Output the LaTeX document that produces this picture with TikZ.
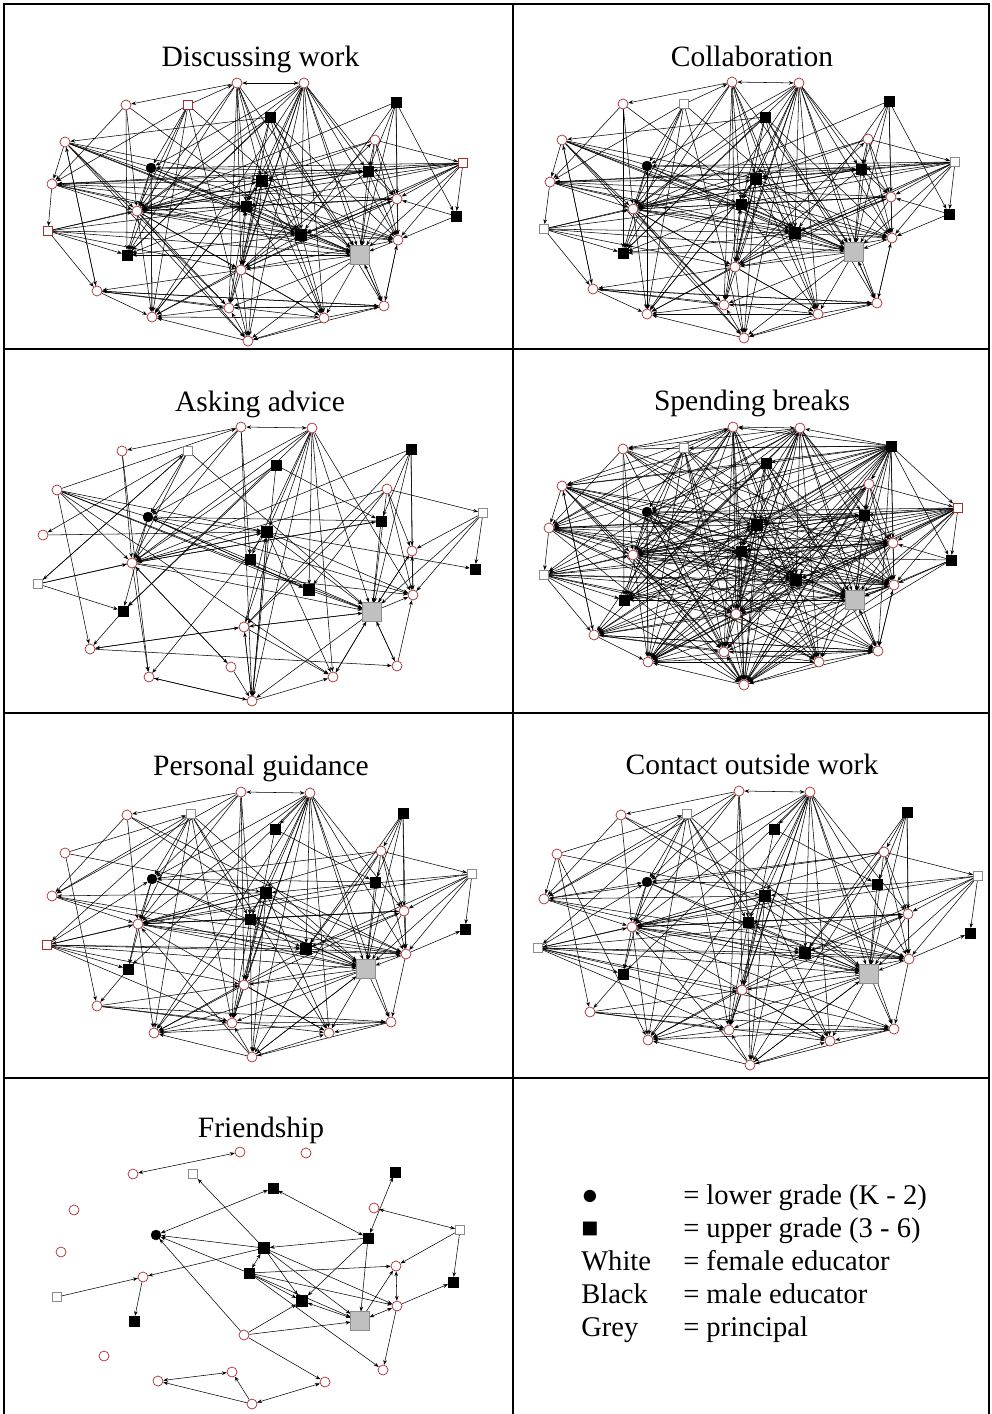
\documentclass[tikz,border=0pt]{standalone}
\usepackage{fontspec}
\setmainfont{Liberation Serif}
\usetikzlibrary{arrows.meta,backgrounds}

\definecolor{nodered}{RGB}{170,45,45}
\definecolor{sqgrey}{RGB}{140,140,140}
\definecolor{principal}{RGB}{192,192,192}

\tikzset{
  >={Stealth[length=3.4pt,width=2.6pt]},
  ncirc/.style={circle, draw=nodered, fill=white, line width=0.5pt, minimum size=0.25cm, inner sep=0pt},
  nbdot/.style={circle, draw=black, fill=black, minimum size=0.245cm, inner sep=0pt},
  nbsq/.style={rectangle, draw=black, fill=black, minimum size=0.24cm, inner sep=0pt},
  nbsqbig/.style={nbsq, minimum size=0.275cm},
  nwsq/.style={rectangle, fill=white, line width=0.5pt, minimum size=0.23cm, inner sep=0pt},
  ngsq/.style={rectangle, draw=sqgrey, fill=principal, line width=0.5pt, minimum size=0.46cm, inner sep=0pt},
  tie/.style={draw=black, line width=0.38pt},
  frame/.style={line width=1.3pt},
  paneltitle/.style={anchor=base, inner sep=0pt, font=\fontsize{21pt}{25pt}\selectfont},
  legendtext/.style={anchor=base west, inner sep=0pt, font=\fontsize{20.3pt}{24pt}\selectfont},
  % kind of actor at each position of the layout
  t1/.style=ncirc,  t2/.style=ncirc,  t3/.style=ncirc,
  t4/.style={nwsq, draw=\wsqA},
  t5/.style=nbsq,   t6/.style=nbsq,   t7/.style=ncirc,  t8/.style=ncirc,
  t9/.style=nbdot,
  t10/.style={nwsq, draw=\wsqB},
  t11/.style=nbsq,  t12/.style=nbsqbig, t13/.style=ncirc, t14/.style=ncirc,
  t15/.style=nbsq,  t16/.style=ncirc, t17/.style=nbsq,
  t18/.style={nwsq, draw=\wsqC},
  t19/.style=nbsqbig, t20/.style=ncirc, t21/.style=nbsq, t22/.style=ngsq,
  t23/.style=ncirc, t24/.style=ncirc, t25/.style=ncirc, t26/.style=ncirc,
  t27/.style=ncirc, t28/.style=ncirc, t29/.style=ncirc
}

\newcommand\wsqcolors[3]{\def\wsqA{#1}\def\wsqB{#2}\def\wsqC{#3}}
\newcommand\placenodes[2]{%
  \foreach \px/\py [count=\i] in {#2} {\node[t\i] (#1\i) at (\px,\py) {};}}
\newcommand\drawties[3][->]{%
  \begin{pgfonlayer}{background}
    \foreach \ea/\eb in #3 {\draw[tie,#1] (#2\ea) -- (#2\eb);}
  \end{pgfonlayer}}

% ---- tie lists ----
\def\tiesDiscuss{1/3, 1/23, 1/16, 1/21, 1/25, 1/15, 1/12, 1/28, 1/19, 1/22,
2/12, 2/15, 2/19, 2/22, 2/23, 2/25, 2/28, 2/26, 2/20, 2/14, 2/16, 2/9, 2/21, 2/27, 2/29, 2/11,
3/16, 3/19, 3/13, 3/21,
4/16, 4/9, 4/13, 4/29, 4/22, 4/21, 4/27, 4/1,
5/7, 5/16, 5/22, 5/20, 5/21, 5/26, 5/23, 5/28, 5/15,
6/11, 6/14, 6/20, 6/17, 6/16, 6/19, 6/22,
7/13, 7/16, 7/19, 7/22, 7/20, 7/25, 7/24, 7/12, 7/15, 7/29,
8/11, 8/22, 8/20, 8/14, 8/12, 8/16, 8/10,
9/11, 9/19, 9/22, 9/16, 9/21, 9/27,
10/14, 10/17, 10/20, 10/12, 10/16, 10/13, 10/15, 10/19, 10/23, 10/9, 10/11, 10/22,
11/14, 11/22, 11/12, 11/16, 11/20, 11/23,
12/16, 12/13, 12/19, 12/22, 12/20, 12/23, 12/29, 12/27, 12/25, 12/28,
13/18, 13/16, 13/19, 13/11, 13/14, 13/22,
14/20, 14/16, 14/22, 14/23, 14/15, 14/19,
15/22, 15/20, 15/21, 15/28, 15/13,
16/19, 16/22, 16/20, 16/23, 16/25, 16/27, 16/29, 16/14, 16/11, 16/28,
17/20, 17/14,
18/16, 18/21, 18/23, 18/19, 18/22, 18/24, 18/15, 18/12,
19/22, 19/20, 19/14, 19/21, 19/27,
20/22, 20/26,
22/21, 22/23, 22/26, 22/28, 22/29, 22/25,
23/24, 23/20, 23/15, 23/27, 23/29, 23/28, 23/8,
24/27, 24/25, 24/26, 24/7, 24/28,
25/27, 25/26, 25/15,
26/20, 26/22, 26/25, 26/24, 26/29,
27/9, 27/12,
28/27, 28/29, 28/26,
29/27, 29/25}

\def\tiesBreaksExtra{6/1, 6/2, 6/3, 6/4, 6/5, 6/9, 6/12, 6/13, 6/15, 6/18, 6/23, 6/25, 6/27,
6/29, 6/7, 6/24, 6/21, 6/28, 6/26, 6/8, 6/10,
1/29, 5/29, 8/29, 9/29, 15/29, 19/29, 3/29, 11/29, 13/29, 14/29, 20/29, 10/29, 17/29, 18/29,
2/7, 2/13, 2/18, 2/24, 2/3, 1/7, 1/13, 1/18, 1/24, 1/27,
3/22, 3/20, 3/14, 4/19, 4/20, 4/23, 4/25, 9/20, 9/14, 9/23, 9/25, 9/28, 13/20, 13/23, 13/28,
16/26, 7/14, 7/26, 18/14, 18/20, 18/26, 21/12, 21/14, 10/24, 10/27, 10/21, 17/16, 17/22,
14/27, 20/27, 20/24, 27/26, 12/24, 15/27, 15/26, 19/25, 19/24, 11/27, 11/24, 8/27, 8/25}

\def\tiesAdvice{1/3, 1/9, 1/16, 1/15, 1/29, 7/1,
2/9, 2/16, 2/15, 2/19, 2/22, 2/23, 2/29, 2/28, 2/20, 2/12, 2/21,
3/16, 3/27,
4/13, 4/16, 4/9, 4/22, 4/18,
5/21, 5/11, 5/16, 5/29,
6/11, 6/16, 6/22, 6/20, 6/14, 6/23,
7/12, 7/16, 7/19, 7/22, 7/20, 7/24, 7/28,
8/10, 8/14, 8/20, 8/22, 8/16, 8/23, 8/19,
9/19, 9/22, 19/9, 9/16, 9/21, 9/12,
10/14, 10/17, 10/20, 10/22,
11/22, 11/16, 11/9,
12/16, 12/17, 12/20, 12/22, 12/29, 12/28, 12/27,
16/11, 16/20, 16/25, 25/16, 16/27, 16/22,
18/16, 18/12, 18/21, 18/4,
19/22, 21/24,
22/20, 22/14, 22/26, 22/29, 22/28,
23/22, 22/23, 23/12, 23/28, 23/29, 23/24,
24/26, 24/23,
29/27, 29/28, 29/23, 29/12,
26/20, 26/22, 27/29, 28/22, 25/29, 13/12, 20/14, 14/22}

\def\tiesGuidance{1/3, 1/9, 1/15, 1/16, 1/23, 1/25, 1/13,
2/5, 2/9, 2/12, 2/15, 2/16, 2/19, 2/22, 2/23, 2/25, 2/28, 2/26, 2/20, 2/14, 2/27, 2/29, 2/21,
3/16, 3/13, 3/22, 3/20,
4/16, 4/9, 4/13, 4/18, 4/25, 4/22, 4/28, 4/15, 4/27,
5/11, 5/23,
6/8, 6/19, 6/14, 6/20, 6/11, 6/22,
7/4, 7/24, 7/12,
8/10, 8/9, 8/16, 8/20, 8/14, 8/22, 8/19, 8/29,
9/19, 9/22, 9/16, 9/21,
10/16, 10/14, 10/17, 10/20, 10/22, 10/12, 10/19,
11/22, 11/9, 11/16,
12/13, 12/16, 12/18, 12/22, 12/23, 12/25, 12/27, 12/28, 12/29, 12/20,
13/16, 13/20, 13/22,
14/16, 14/22, 14/20, 14/15,
15/16, 15/22, 15/20, 15/25, 15/29,
16/19, 16/20, 16/22, 16/21, 16/27, 16/28, 16/14,
20/17,
18/16, 18/19, 18/22, 18/20, 18/21, 18/23, 18/25, 18/9,
19/22, 19/20, 19/14, 19/27,
20/22, 20/26,
21/24,
22/26, 22/27, 22/28, 22/29, 22/23, 22/25,
23/27, 23/25, 23/28, 23/20, 23/14,
24/25, 24/26, 24/28, 24/23,
25/26, 25/27,
26/27, 26/28, 26/29,
29/27, 29/28, 29/25, 29/16, 29/22}

\def\tiesOutsideExtra{18/26, 18/14, 16/26, 13/9, 8/13, 21/28, 7/13, 7/27}

\def\tiesFriend{12/4, 12/9, 15/9, 23/9, 11/12, 12/16, 18/16, 16/21, 15/14, 15/20, 15/22,
15/19, 15/26, 12/19, 12/22, 12/20, 11/19, 11/22, 10/14, 10/17, 22/14, 20/17, 20/26,
23/19, 23/22, 23/28, 29/27, 29/25}
\def\mutualFriend{3/1, 9/5, 5/11, 6/11, 8/10, 15/12, 14/20, 22/20, 19/22, 27/25, 29/28}
\def\mutualTop{1/2}

\begin{document}
\begin{tikzpicture}[x=0.025cm, y=-0.025cm]
\useasboundingbox (0,0) rectangle (992,1414);

% ---- table rules ----
\draw[frame] (4,1414) -- (4,4) -- (989,4) -- (989,1414);
\draw[frame] (513,4) -- (513,1414);
\foreach \yy in {349,713,1078} \draw[frame] (4,\yy) -- (989,\yy);

% ---- Discussing work ----
\node[paneltitle] (titleA) at (260.5,66) {Discussing work};
\wsqcolors{nodered}{nodered}{nodered}
\placenodes{A}{237/83, 304/83, 126/105, 188/105, 270/117, 396/102, 65/142, 375/140, 151/168,
463/163, 368/171, 262/181, 52/184, 397/199, 246/206, 137/211, 456/216, 48/231, 301/235,
398/240, 127/255, 360/255, 241/270, 97/291, 229/308, 384/306, 152/317, 324/318, 248/341}
\drawties{A}{\tiesDiscuss}
\drawties[<->]{A}{\mutualTop}

% ---- Collaboration ----
\node[paneltitle] (titleB) at (752,66) {Collaboration};
\wsqcolors{sqgrey}{sqgrey}{sqgrey}
\placenodes{B}{732/82, 799/83, 623/104, 684/104, 765/117, 889/101, 562/140, 868/139, 647/166,
955/162, 861/169, 756/179, 550/182, 891/197, 741/204, 633/209, 949/214, 544/229, 795/233,
892/238, 623/253, 854/252, 735/267, 593/289, 724/305, 877/303, 647/314, 818/314, 744/338}
\drawties{B}{\tiesDiscuss}
\drawties[<->]{B}{\mutualTop}

% ---- Asking advice ----
\node[paneltitle] (titleC) at (260,411) {Asking advice};
\wsqcolors{sqgrey}{sqgrey}{sqgrey}
\placenodes{C}{241/427, 312/428, 122/451, 188/451, 276/465, 411/449, 57/490, 387/489, 148/517,
483/513, 381/521, 267/532, 43/535, 412/551, 250/559, 132/563, 475/569, 38/584, 309/590,
413/595, 123/611, 372/612, 244/627, 90/649, 231/667, 397/666, 149/677, 333/677, 252/701}
\drawties{C}{\tiesAdvice}
\drawties[<->]{C}{\mutualTop}

% ---- Spending breaks ----
\node[paneltitle] (titleD) at (752,410) {Spending breaks};
\wsqcolors{sqgrey}{nodered}{sqgrey}
\placenodes{D}{733/427, 800/428, 623/449, 684/448, 766/463, 891/446, 562/486, 869/484, 647/512,
958/508, 864/515, 757/525, 549/528, 893/543, 741/551, 633/555, 951/560, 544/575, 796/580,
894/585, 624/600, 855/600, 736/614, 594/635, 724/652, 878/651, 648/662, 819/662, 744/685}
\drawties{D}{\tiesDiscuss}
\drawties{D}{\tiesBreaksExtra}
\drawties[<->]{D}{\mutualTop}

% ---- Personal guidance ----
\node[paneltitle] (titleE) at (261,775) {Personal guidance};
\wsqcolors{sqgrey}{sqgrey}{nodered}
\placenodes{E}{241/792, 310/793, 127/815, 191/814, 275/829, 403/813, 65/853, 381/851, 152/879,
472/874, 375/882, 266/893, 52/896, 404/911, 250/919, 138/924, 465/929, 47/945, 306/949,
406/954, 128/969, 366/969, 244/985, 97/1006, 232/1023, 391/1022, 154/1033, 329/1033, 252/1057}
\drawties{E}{\tiesGuidance}
\drawties[<->]{E}{\mutualTop}

% ---- Contact outside work ----
\node[paneltitle] (titleF) at (752,774) {Contact outside work};
\wsqcolors{sqgrey}{sqgrey}{sqgrey}
\placenodes{F}{739/791, 810/792, 621/815, 687/814, 774/829, 907/812, 557/854, 884/852, 647/882,
978/876, 877/884, 765/896, 544/899, 908/914, 748/922, 632/927, 970/933, 538/948, 805/953,
909/959, 623/974, 869/974, 742/990, 590/1012, 729/1030, 894/1029, 648/1040, 830/1041, 750/1065}
\drawties{F}{\tiesGuidance}
\drawties{F}{\tiesOutsideExtra}
\drawties[<->]{F}{\mutualTop}

% ---- Friendship ----
\node[paneltitle] (titleG) at (261,1137) {Friendship};
\wsqcolors{sqgrey}{sqgrey}{sqgrey}
\placenodes{G}{240/1152, 306/1153, 133/1174, 193/1174, 273/1188, 395/1172, 74/1210, 374/1208,
156/1235, 460/1230, 368/1238, 264/1248, 61/1252, 396/1266, 249/1273, 143/1277, 453/1282,
57/1297, 302/1301, 397/1306, 134/1321, 360/1321, 244/1335, 104/1356, 232/1372, 383/1370,
158/1381, 325/1382, 252/1404}
\drawties{G}{\tiesFriend}
\drawties[<->]{G}{\mutualFriend}

% ---- legend ----
\node[legendtext] (k1) at (581,1204) {●};
\node[legendtext] (v1) at (683,1204) {= lower grade (K - 2)};
\node[legendtext] (k2) at (581,1237) {■};
\node[legendtext] (v2) at (683,1237) {= upper grade (3 - 6)};
\node[legendtext] (k3) at (581,1270) {White};
\node[legendtext] (v3) at (683,1270) {= female educator};
\node[legendtext] (k4) at (581,1303) {Black};
\node[legendtext] (v4) at (683,1303) {= male educator};
\node[legendtext] (k5) at (581,1336) {Grey};
\node[legendtext] (v5) at (683,1336) {= principal};
\end{tikzpicture}
\end{document}
